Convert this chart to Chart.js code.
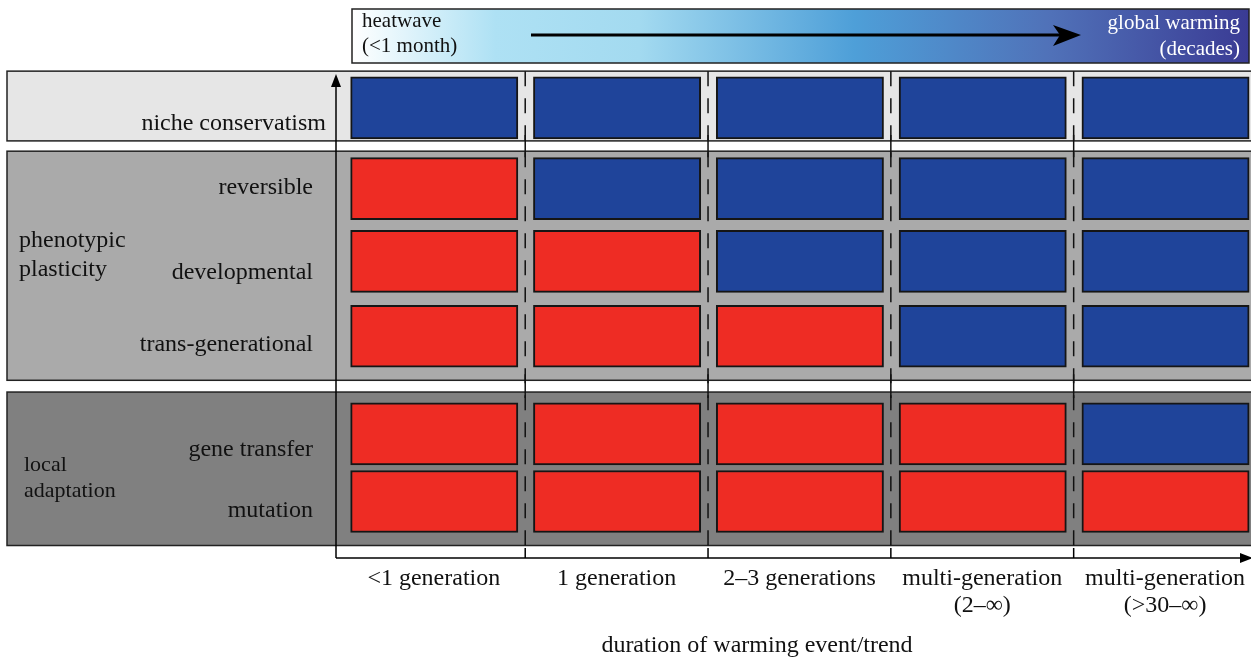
<!DOCTYPE html>
<html>
<head>
<meta charset="utf-8">
<script src="https://cdn.jsdelivr.net/npm/chart.js@4"></script>
<style>
  html, body { margin: 0; padding: 0; background: #fff; }
  #wrap { width: 1251px; height: 659px; position: relative; }
</style>
</head>
<body>
<div id="wrap"><canvas id="grid"></canvas></div>
<script>
// columns = duration of the warming event
const durations = ['<1 generation', '1 generation', '2\u20133 generations',
  'multi-generation\n(2\u2013\u221e)', 'multi-generation\n(>30\u2013\u221e)'];

// rows = response mechanisms (1 = red cell, 0 = blue cell)
const mechanisms = ['niche conservatism', 'reversible', 'developmental',
  'trans-generational', 'gene transfer', 'mutation'];
const rowNiche         = [0, 0, 0, 0, 0];
const rowReversible    = [1, 0, 0, 0, 0];
const rowDevelopmental = [1, 1, 0, 0, 0];
const rowTransGen      = [1, 1, 1, 0, 0];
const rowGeneTransfer  = [1, 1, 1, 1, 0];
const rowMutation      = [1, 1, 1, 1, 1];
const rows = [rowNiche, rowReversible, rowDevelopmental, rowTransGen, rowGeneTransfer, rowMutation];

// where each row sits on the (reversed) y axis, and its label
const rowPos   = [0.57, 1.67, 2.66, 3.68, 5.01, 5.93];
const labelPos = [0.79, 1.66, 2.81, 3.79, 5.23, 6.06];

const RED = '#ee2c24', BLUE = '#1f449a', EDGE = '#151515';
const SERIF = '"Liberation Serif", "Times New Roman", serif';

// build the floating bars
const cells = [], colors = [];
rows.forEach((r, i) => {
  r.forEach((v, k) => {
    cells.push({ x: [k + 0.045, k + 0.96], y: rowPos[i] });
    colors.push(v ? RED : BLUE);
  });
});

function text(ctx, s, x, y, size, align, color){
  ctx.font = size + 'px ' + SERIF;
  ctx.textAlign = align;
  ctx.textBaseline = 'middle';
  ctx.fillStyle = color || '#111';
  ctx.fillText(s, x, y);
}

const decor = {
  id: 'decor',
  beforeDatasetsDraw(chart){
    const ctx = chart.ctx, xs = chart.scales.x, ys = chart.scales.y;
    const W = chart.width;
    ctx.save();

    // time-scale banner
    const g = ctx.createLinearGradient(352, 0, 1249, 0);
    g.addColorStop(0, '#ffffff');
    g.addColorStop(0.16, '#aee1f4');
    g.addColorStop(0.32, '#a3daf0');
    g.addColorStop(0.56, '#4e9fd8');
    g.addColorStop(0.78, '#5071b8');
    g.addColorStop(1, '#3a3b94');
    ctx.fillStyle = g;
    ctx.fillRect(352, 9, 897, 54);
    ctx.strokeStyle = '#222'; ctx.lineWidth = 1.5;
    ctx.strokeRect(352, 9, 897, 54);
    ctx.strokeStyle = '#000'; ctx.lineWidth = 3;
    ctx.beginPath(); ctx.moveTo(531, 35); ctx.lineTo(1060, 35); ctx.stroke();
    ctx.fillStyle = '#000';
    ctx.beginPath(); ctx.moveTo(1081, 35); ctx.lineTo(1053, 25); ctx.lineTo(1060, 35); ctx.lineTo(1053, 46); ctx.closePath(); ctx.fill();
    text(ctx, 'heatwave', 362, 21, 21, 'left');
    text(ctx, '(<1 month)', 362, 46, 21, 'left');
    text(ctx, 'global warming', 1240, 23, 21, 'right', '#fff');
    text(ctx, '(decades)', 1240, 49, 21, 'right', '#fff');

    // group panels
    const panels = [[0.07, 1.02, '#e6e6e6'], [1.16, 4.28, '#aaaaaa'], [4.44, 6.53, '#808080']];
    panels.forEach(([a, b, c]) => {
      const t = ys.getPixelForValue(a), bt = ys.getPixelForValue(b);
      ctx.fillStyle = c;
      ctx.fillRect(7, t, W + 10, bt - t);
      ctx.strokeStyle = '#222'; ctx.lineWidth = 1.5;
      ctx.strokeRect(7, t, W + 10, bt - t);
    });

    // column separators
    const top = ys.getPixelForValue(0.07), bot = ys.getPixelForValue(6.53);
    ctx.strokeStyle = '#111'; ctx.lineWidth = 1.5;
    for (let k = 1; k < durations.length; k++){
      const px = xs.getPixelForValue(k);
      ctx.setLineDash([15, 12]);
      ctx.beginPath(); ctx.moveTo(px, top); ctx.lineTo(px, bot); ctx.stroke();
      ctx.setLineDash([]);
      // solid bits through the white gaps
      [[1.02, 1.16], [4.28, 4.44]].forEach(([a, b]) => {
        ctx.beginPath(); ctx.moveTo(px, ys.getPixelForValue(a) - 6); ctx.lineTo(px, ys.getPixelForValue(b) + 6); ctx.stroke();
      });
    }
    ctx.restore();
  },
  afterDatasetsDraw(chart){
    const ctx = chart.ctx, xs = chart.scales.x, ys = chart.scales.y;
    const area = chart.chartArea;
    ctx.save();
    const x0 = area.left, y0 = area.bottom;

    // axes with arrow heads
    ctx.strokeStyle = '#000'; ctx.fillStyle = '#000'; ctx.lineWidth = 1.5;
    ctx.beginPath(); ctx.moveTo(x0, y0); ctx.lineTo(x0, area.top + 18); ctx.stroke();
    ctx.beginPath(); ctx.moveTo(x0, area.top + 8); ctx.lineTo(x0 - 5, area.top + 21); ctx.lineTo(x0 + 5, area.top + 21); ctx.closePath(); ctx.fill();
    ctx.beginPath(); ctx.moveTo(x0, y0); ctx.lineTo(area.right - 10, y0); ctx.stroke();
    ctx.beginPath(); ctx.moveTo(area.right + 2, y0); ctx.lineTo(area.right - 11, y0 - 5); ctx.lineTo(area.right - 11, y0 + 5); ctx.closePath(); ctx.fill();
    for (let k = 1; k < durations.length; k++){
      const px = xs.getPixelForValue(k);
      ctx.beginPath(); ctx.moveTo(px, y0); ctx.lineTo(px, y0 - 10); ctx.stroke();
    }

    // duration labels
    durations.forEach((d, k) => {
      const px = xs.getPixelForValue(k + 0.5);
      d.split('\n').forEach((line, j) => text(ctx, line, px, y0 + 21 + j * 27, 24, 'center'));
    });
    text(ctx, 'duration of warming event/trend', 757, 646, 24, 'center');

    // mechanism labels
    mechanisms.forEach((m, i) => {
      const px = i === 0 ? 326 : 313;
      text(ctx, m, px, ys.getPixelForValue(labelPos[i]), 24, 'right');
    });
    text(ctx, 'phenotypic', 19, 241, 24, 'left');
    text(ctx, 'plasticity', 19, 270, 24, 'left');
    text(ctx, 'local', 24, 465, 22, 'left');
    text(ctx, 'adaptation', 24, 491, 22, 'left');
    ctx.restore();
  }
};

new Chart(document.getElementById('grid'), {
  type: 'bar',
  data: {
    datasets: [{
      data: cells,
      backgroundColor: colors,
      borderColor: EDGE,
      borderWidth: 2,
      borderSkipped: false,
      barThickness: 62
    }]
  },
  options: {
    indexAxis: 'y',
    responsive: true,
    maintainAspectRatio: false,
    animation: false,
    layout: { padding: { left: 336, right: 0, top: 66, bottom: 101 } },
    scales: {
      x: { type: 'linear', min: -0.035, max: 4.97, offset: false, display: false },
      y: { type: 'linear', min: 0, max: 6.7, reverse: true, offset: false, display: false }
    },
    plugins: { legend: { display: false }, tooltip: { enabled: false } }
  },
  plugins: [decor]
});
</script>
</body>
</html>
